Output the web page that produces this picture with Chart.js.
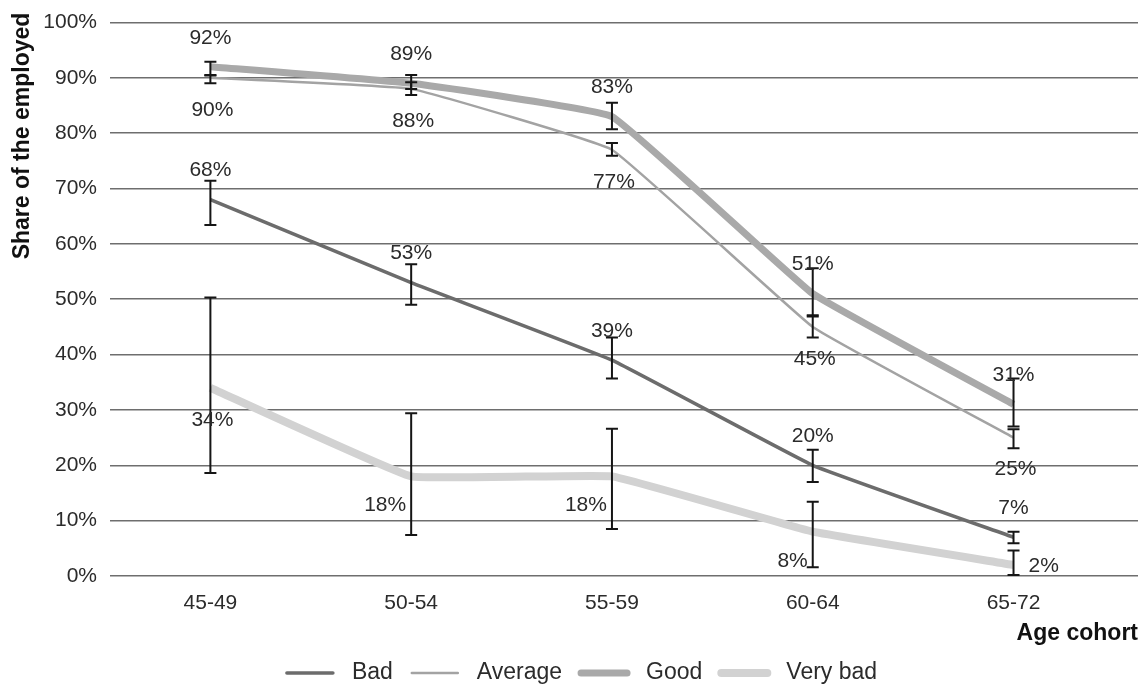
<!DOCTYPE html>
<html>
<head>
<meta charset="utf-8">
<title>Share of the employed by age cohort and health</title>
<script src="https://cdn.jsdelivr.net/npm/chart.js@4.4.1/dist/chart.umd.min.js"></script>
<style>
  html, body { margin: 0; padding: 0; background: #fff; }
  #wrap { width: 1144px; height: 686px; position: relative; }
</style>
</head>
<body>
<div id="wrap"><canvas id="chart"></canvas></div>
<script>
// Age cohorts on the x axis
const cohorts = ['45-49', '50-54', '55-59', '60-64', '65-72'];

// Share of the employed (%) by self-rated health
const bad     = [68, 53, 39, 20, 7];
const average = [90, 88, 77, 45, 25];
const good    = [92, 89, 83, 51, 31];
const veryBad = [34, 18, 18, 8, 2];

// Confidence intervals (lower / upper, %)
const badLow      = [63.4, 49.0, 35.7, 17.0, 5.9];
const badHigh     = [71.4, 56.3, 43.1, 22.8, 8.0];
const averageLow  = [89.0, 86.9, 75.9, 43.1, 23.1];
const averageHigh = [90.4, 89.2, 78.2, 47.1, 26.5];
const goodLow     = [90.5, 88.0, 80.7, 46.9, 27.0];
const goodHigh    = [92.9, 90.5, 85.5, 55.6, 35.7];
const veryBadLow  = [18.6, 7.4, 8.5, 1.6, 0.2];
const veryBadHigh = [50.3, 29.4, 26.6, 13.4, 4.6];

// y axis ticks
const yTickValues = [0, 10, 20, 30, 40, 50, 60, 70, 80, 90, 100];

const FONT = "'Liberation Sans', Arial, Helvetica, sans-serif";
const TEXT = '#2b2b2b';

const toPoints = arr => arr.map((v, i) => ({ x: i, y: v }));

function makeDataset(label, values, low, high, color, width, labelPos) {
  return {
    label,
    data: toPoints(values),
    low, high, labelPos,
    borderColor: color,
    backgroundColor: color,
    borderWidth: width,
    pointRadius: 0,
    pointHoverRadius: 0,
    tension: 0.08,
    fill: false
  };
}

const datasets = [
  makeDataset('Bad', bad, badLow, badHigh, '#6c6c6c', 3.5, cohorts.map(() => 'above')),
  makeDataset('Average', average, averageLow, averageHigh, '#a3a3a3', 2.5, cohorts.map(() => 'below')),
  makeDataset('Good', good, goodLow, goodHigh, '#a9a9a9', 7, cohorts.map(() => 'above')),
  makeDataset('Very bad', veryBad, veryBadLow, veryBadHigh, '#d2d2d2', 8,
              ['below', 'belowLeft', 'belowLeft', 'belowLeft', 'right'])
];

// Vertical confidence-interval whiskers
const errorBars = {
  id: 'errorBars',
  afterDatasetsDraw(chart) {
    const { ctx, scales: { x, y } } = chart;
    ctx.save();
    ctx.strokeStyle = '#151515';
    ctx.lineWidth = 2;
    const cap = 6;
    chart.data.datasets.forEach(ds => {
      ds.low.forEach((lo, i) => {
        const px = x.getPixelForValue(i);
        const y1 = y.getPixelForValue(lo);
        const y2 = y.getPixelForValue(ds.high[i]);
        ctx.beginPath();
        ctx.moveTo(px, y1); ctx.lineTo(px, y2);
        ctx.moveTo(px - cap, y1); ctx.lineTo(px + cap, y1);
        ctx.moveTo(px - cap, y2); ctx.lineTo(px + cap, y2);
        ctx.stroke();
      });
    });
    ctx.restore();
  }
};

// Percentage labels next to each point
const valueLabels = {
  id: 'valueLabels',
  afterDatasetsDraw(chart) {
    const { ctx, scales: { x, y } } = chart;
    ctx.save();
    ctx.font = '21px ' + FONT;
    ctx.fillStyle = TEXT;
    ctx.textBaseline = 'middle';
    chart.data.datasets.forEach(ds => {
      ds.data.forEach((p, i) => {
        const px = x.getPixelForValue(p.x);
        const py = y.getPixelForValue(p.y);
        const txt = Math.round(p.y) + '%';
        const pos = ds.labelPos[i];
        if (pos === 'above') {
          ctx.textAlign = 'center'; ctx.fillText(txt, px, py - 29);
        } else if (pos === 'below') {
          ctx.textAlign = 'center'; ctx.fillText(txt, px + 2, py + 32);
        } else if (pos === 'belowLeft') {
          ctx.textAlign = 'right'; ctx.fillText(txt, px - 5, py + 29);
        } else if (pos === 'right') {
          ctx.textAlign = 'left'; ctx.fillText(txt, px + 15, py + 1);
        }
      });
    });
    ctx.restore();
  }
};

// Rotated y axis title near the top of the axis
const yTitle = {
  id: 'yTitle',
  afterDraw(chart) {
    const { ctx } = chart;
    ctx.save();
    ctx.font = 'bold 23px ' + FONT;
    ctx.fillStyle = '#111';
    ctx.textAlign = 'center';
    ctx.textBaseline = 'alphabetic';
    ctx.translate(29, 136);
    ctx.rotate(-Math.PI / 2);
    ctx.fillText('Share of the employed', 0, 0);
    ctx.restore();
  }
};

// Line-sample legend along the bottom
const lineLegend = {
  id: 'lineLegend',
  afterDraw(chart) {
    const { ctx } = chart;
    const sample = 50, gapText = 17, gapItem = 17;
    ctx.save();
    ctx.font = '23px ' + FONT;
    ctx.textBaseline = 'middle';
    ctx.textAlign = 'left';
    const items = chart.data.datasets.map(ds => ({
      ds, w: sample + gapText + ctx.measureText(ds.label).width
    }));
    const total = items.reduce((s, it) => s + it.w, 0) + gapItem * (items.length - 1);
    let cx = chart.width / 2 + 9 - total / 2;
    const cy = 673;
    items.forEach(it => {
      ctx.beginPath();
      ctx.strokeStyle = it.ds.borderColor;
      ctx.lineWidth = it.ds.borderWidth;
      ctx.lineCap = 'round';
      ctx.moveTo(cx + 2, cy); ctx.lineTo(cx + sample - 2, cy);
      ctx.stroke();
      ctx.fillStyle = TEXT;
      ctx.fillText(it.ds.label, cx + sample + gapText, cy);
      cx += it.w + gapItem;
    });
    ctx.restore();
  }
};

new Chart(document.getElementById('chart'), {
  type: 'line',
  data: { datasets },
  plugins: [errorBars, valueLabels, yTitle, lineLegend],
  options: {
    responsive: true,
    maintainAspectRatio: false,
    animation: false,
    events: [],
    layout: { padding: { top: 22, right: 6, bottom: 39, left: 0 } },
    plugins: {
      legend: { display: false },
      tooltip: { enabled: false }
    },
    scales: {
      x: {
        type: 'linear',
        min: -0.5,
        max: 4.62,
        afterBuildTicks: scale => { scale.ticks = cohorts.map((c, i) => ({ value: i })); },
        afterFit: scale => { scale.height = 71; },
        ticks: {
          autoSkip: false,
          maxRotation: 0,
          padding: 15,
          color: TEXT,
          font: { family: FONT, size: 21 },
          callback: v => cohorts[v] ?? ''
        },
        grid: { display: false, drawTicks: false },
        border: { display: false },
        title: {
          display: true,
          text: 'Age cohort',
          align: 'end',
          color: '#111',
          font: { family: FONT, size: 23, weight: 'bold' },
          padding: { top: 3, bottom: 0 }
        }
      },
      y: {
        min: 0,
        max: 100,
        afterBuildTicks: scale => { scale.ticks = yTickValues.map(v => ({ value: v })); },
        afterFit: scale => { scale.width = 110; },
        ticks: {
          padding: 13,
          color: TEXT,
          font: { family: FONT, size: 21, lineHeight: 0.9 },
          callback: v => v + '%'
        },
        grid: { color: '#6e6e6e', lineWidth: 1.5, drawTicks: false },
        border: { display: false }
      }
    }
  }
});
</script>
</body>
</html>
